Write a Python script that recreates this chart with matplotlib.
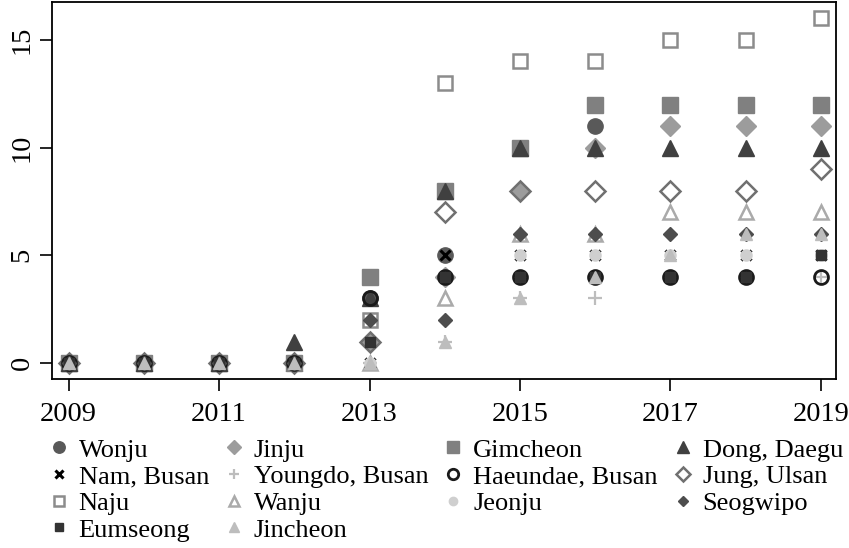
import matplotlib
matplotlib.use("Agg")
from matplotlib import pyplot as plt
import numpy as np

plt.rcParams['font.family'] = ['Liberation Serif', 'DejaVu Serif']

years = np.arange(2009, 2020)

# counts per year, 2009..2019
wonju = [0, 0, 0, 0, 3, 5, 10, 11, 12, 12, 12]
nam_busan = [0, 0, 0, 0, 0, 5, 5, 5, 5, 5, 5]
naju = [0, 0, 0, 0, 2, 13, 14, 14, 15, 15, 16]
eumseong = [0, 0, 0, 0, 1, 4, 4, 4, 4, 4, 5]
jinju = [0, 0, 0, 0, 1, 4, 8, 10, 11, 11, 11]
youngdo_busan = [0, 0, 0, 0, 0, 1, 3, 3, 4, 4, 4]
wanju = [0, 0, 0, 0, 0, 3, 6, 6, 7, 7, 7]
jincheon = [0, 0, 0, 0, 0, 1, 3, 4, 5, 6, 6]
gimcheon = [0, 0, 0, 0, 4, 8, 10, 12, 12, 12, 12]
haeundae_busan = [0, 0, 0, 0, 3, 4, 4, 4, 4, 4, 4]
jeonju = [0, 0, 0, 0, 0, 4, 5, 5, 5, 5, 5]
dong_daegu = [0, 0, 0, 1, 3, 8, 10, 10, 10, 10, 10]
jung_ulsan = [0, 0, 0, 0, 1, 7, 8, 8, 8, 8, 9]
seogwipo = [0, 0, 0, 0, 2, 2, 6, 6, 6, 6, 6]

# name, values, marker style, draw order
series = [
    ("Wonju", wonju, dict(marker='o', ms=11, mfc='#595959', mec='#595959'), 1),
    ("Nam, Busan", nam_busan, dict(marker='x', ms=7, mec='black', mew=2.2), 7),
    ("Naju", naju, dict(marker='s', ms=10, mfc='none', mec='#8c8c8c', mew=1.8), 2),
    ("Eumseong", eumseong, dict(marker='s', ms=7.5, mfc='#333333', mec='#333333'), 13),
    ("Jinju", jinju, dict(marker='D', ms=10, mfc='#9c9c9c', mec='#9c9c9c'), 3),
    ("Youngdo, Busan", youngdo_busan, dict(marker='+', ms=10, mec='#bdbdbd', mew=1.6), 6),
    ("Wanju", wanju, dict(marker='^', ms=10.5, mfc='none', mec='#aaaaaa', mew=1.8), 4),
    ("Jincheon", jincheon, dict(marker='^', ms=9, mfc='#bdbdbd', mec='#bdbdbd'), 14),
    ("Gimcheon", gimcheon, dict(marker='s', ms=11, mfc='#808080', mec='#808080'), 5),
    ("Haeundae, Busan", haeundae_busan, dict(marker='o', ms=10, mfc='none', mec='#1a1a1a', mew=2), 11),
    ("Jeonju", jeonju, dict(marker='o', ms=8, mfc='#cfcfcf', mec='#cfcfcf'), 8),
    ("Dong, Daegu", dong_daegu, dict(marker='^', ms=12, mfc='#404040', mec='#404040'), 10),
    ("Jung, Ulsan", jung_ulsan, dict(marker='D', ms=10, mfc='none', mec='#707070', mew=1.8), 9),
    ("Seogwipo", seogwipo, dict(marker='D', ms=7, mfc='#4d4d4d', mec='#4d4d4d'), 12),
]

fig = plt.figure(figsize=(8.49, 5.48), dpi=100)
ax = fig.add_axes([52 / 849, 1 - 379 / 548, 784 / 849, 377 / 548])

handles = []
for name, vals, style, z in series:
    h, = ax.plot(years, vals, linestyle='none', label=name, zorder=z, **style)
    handles.append(h)

ax.set_xlim(2008.78, 2019.2)
ax.set_ylim(-0.74, 16.76)
ax.set_xticks(np.arange(2009, 2020, 2))
ax.set_yticks([0, 5, 10, 15])
ax.tick_params(axis='both', direction='out', length=8.5, width=1.2, labelsize=20.5)
ax.tick_params(axis='x', pad=8)
ax.tick_params(axis='y', labelrotation=90, pad=4)
for lab in ax.get_yticklabels():
    lab.set_va('center')
for sp in ax.spines.values():
    sp.set_linewidth(1.3)

fig.legend(handles=handles, ncol=4, loc='upper left', bbox_to_anchor=(35 / 849, 1 - 425 / 548),
           frameon=False, fontsize=19, markerscale=0.75, handlelength=0.8,
           handletextpad=0.35, columnspacing=0.55, labelspacing=0.12, borderpad=0)

fig.savefig("out.png", dpi=100)
